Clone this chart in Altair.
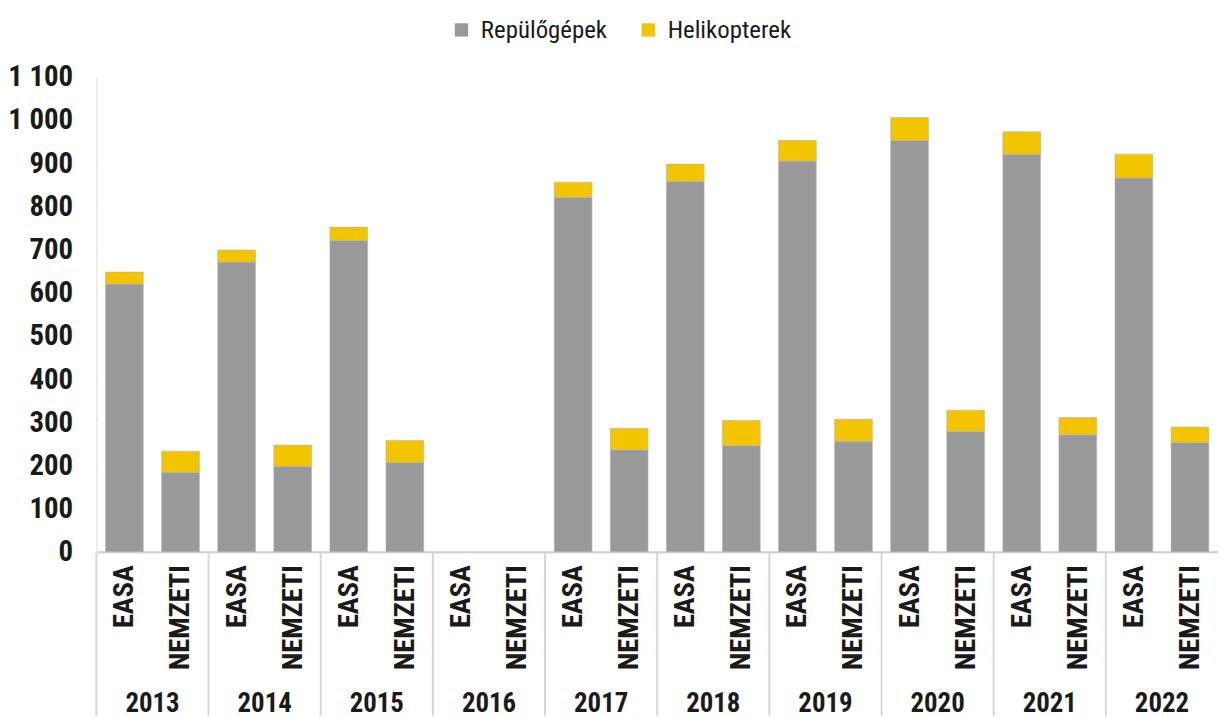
import altair as alt
import pandas as pd

years = ["2013", "2014", "2015", "2016", "2017", "2018", "2019", "2020", "2021", "2022"]
types = ["EASA", "NEMZETI"]
series = ["Repülőgépek", "Helikopterek"]

easa_plane = [620, 671, 721, 0, 821, 858, 905, 953, 921, 866]
easa_heli = [28, 28, 31, 0, 35, 40, 48, 53, 52, 55]
nemzeti_plane = [184, 198, 207, 0, 236, 246, 256, 279, 271, 253]
nemzeti_heli = [49, 49, 51, 0, 50, 58, 51, 49, 40, 36]

y_ticks = [0, 100, 200, 300, 400, 500, 600, 700, 800, 900, 1000, 1100]

FONT = "Roboto Condensed, Liberation Sans Narrow, Liberation Sans, Arial, sans-serif"

rows = []
cats = []
for i, y in enumerate(years):
    for t, pl, he in (("EASA", easa_plane[i], easa_heli[i]), ("NEMZETI", nemzeti_plane[i], nemzeti_heli[i])):
        c = f"{y}|{t}"
        cats.append(c)
        rows.append({"cat": c, "year": y, "series": series[0], "value": pl, "ord": 0})
        rows.append({"cat": c, "year": y, "series": series[1], "value": he, "ord": 1})
df = pd.DataFrame(rows)
ydf = pd.DataFrame({"year": years})

W, H = 1129, 478
PT, PB, PL = 67, 165, 89

bars = alt.Chart(df).mark_bar(stroke="#b5b5b5", strokeWidth=0.6).encode(
    x=alt.X("cat:N", sort=cats,
            scale=alt.Scale(domain=cats, paddingInner=0.327, paddingOuter=0.1635),
            axis=alt.Axis(title=None, labelExpr="split(datum.label, '|')[1]",
                          labelAngle=270, labelFontSize=28.5, labelFontWeight="bold",
                          labelColor="#1a1a1a", labelPadding=13, ticks=False,
                          domain=True, domainColor="#cfcfcf", domainWidth=2,
                          grid=False, labelFont=FONT)),
    y=alt.Y("value:Q", stack="zero",
            scale=alt.Scale(domain=[0, 1100], nice=False),
            axis=alt.Axis(title=None, values=y_ticks,
                          labelExpr="replace(format(datum.value, ','), ',', ' ')",
                          labelFontSize=29, labelFontWeight="bold", labelColor="#1a1a1a",
                          labelPadding=24, ticks=False, domain=False,
                          grid=True, gridColor="#ffffff", gridWidth=2, labelFont=FONT)),
    color=alt.Color("series:N", sort=series,
                    scale=alt.Scale(domain=series, range=["#999999", "#f2c500"]),
                    legend=alt.Legend(title=None, orient="none", legendX=355, legendY=-60,
                                      direction="horizontal", symbolType="square",
                                      symbolSize=180, symbolStrokeWidth=0,
                                      labelFontSize=25, labelFont=FONT, labelColor="#1a1a1a",
                                      labelOffset=7, columnPadding=28, padding=0)),
    order=alt.Order("ord:Q"),
).transform_filter("datum.value > 0")

ysc = alt.Scale(paddingInner=0, paddingOuter=0)

seps = alt.Chart(ydf).mark_rule(color="#d6d6d6", strokeWidth=2).encode(
    x=alt.X("year:N", sort=years, bandPosition=0, scale=ysc, axis=None),
    y=alt.value(H + 1),
    y2=alt.value(H + PB),
)

year_text = alt.Chart(ydf).mark_text(fontSize=27, fontWeight="bold", font=FONT,
                                     color="#1a1a1a", baseline="middle").encode(
    x=alt.X("year:N", sort=years, scale=ysc, axis=None),
    y=alt.value(631.5),
    text="year:N",
)

chart = alt.layer(bars, seps, year_text).resolve_scale(x="independent").properties(
    width=W, height=H,
    autosize=alt.AutoSizeParams(type="none"),
    padding={"left": PL, "top": PT, "right": 0, "bottom": PB},
).configure_view(fill="#d9d9d9", strokeWidth=0).configure(font=FONT)

chart.save("out.html", embed_options={"renderer": "svg", "actions": False})
